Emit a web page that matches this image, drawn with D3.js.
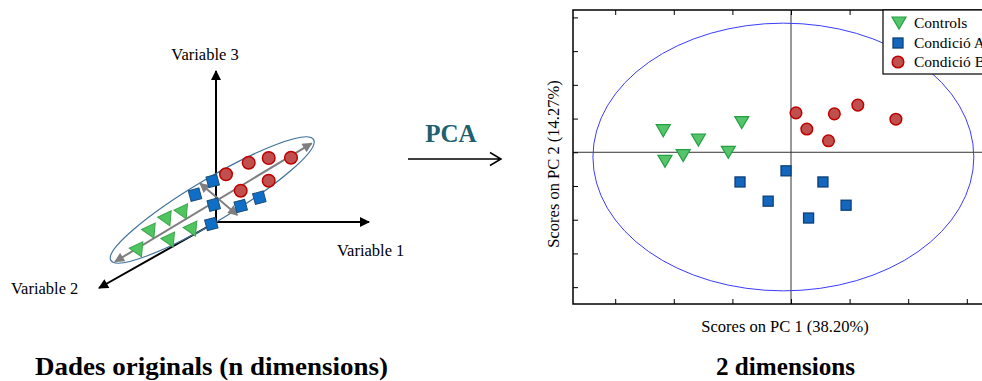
<!DOCTYPE html>
<html>
<head>
<meta charset="utf-8">
<script src="https://cdn.jsdelivr.net/npm/d3@7"></script>
<style>
  body { margin: 0; background: #fff; }
  text { font-family: "Liberation Serif", "Times New Roman", serif; }
</style>
</head>
<body>
<div id="chart"></div>
<script>
// ---- left diagram (projected 3D sketch, units relative to axes origin) ----
var leftRed = [[10, 47.7], [32.7, 59.3], [52.7, 64], [75, 64.3], [24.7, 31.3], [52.7, 41.3]];
var leftBlue = [[-3.3, 41], [-21, 27.3], [-2.3, 17.3], [24.7, 16], [43.3, 24.3], [-4.7, -2]];
var leftGreen = [[-49.3, 3], [-33, 10], [-65.3, -9.3], [-46, -18.3], [-23.7, -7.3], [-77.7, -28]];
var axisTips = [
    { name: 'Variable 1', tip: [153, 0] },
    { name: 'Variable 3', tip: [0, 151] },
    { name: 'Variable 2', tip: [-117, -66] }
];
var pcArrows = [[[-101, -39.7], [95.7, 78.7]], [[-16, 38.7], [21.3, 7]]];
var leftEllipse = { cx: -3.8, cy: 22, a: 118, b: 21, angle: 30.8 };

// ---- right chart: PCA scores ----
var groups = ['Controls', 'Condició A', 'Condició B'];
var controls = [[-2.18, 0.64], [-2.15, -0.27], [-1.84, -0.10], [-1.58, 0.36], [-1.07, 0.0], [-0.84, 0.88]];
var condA = [[-0.87, -0.88], [-0.39, -1.45], [-0.085, -0.55], [0.30, -1.95], [0.545, -0.88], [0.94, -1.57]];
var condB = [[0.085, 1.17], [0.27, 0.69], [0.64, 0.34], [0.74, 1.14], [1.14, 1.40], [1.79, 0.98]];
var xTicks = [-3, -2, -1, 0, 1, 2, 3, 4];
var yTicks = [-4, -3, -2, -1, 0, 1, 2, 3, 4];
var confEllipse = { cx: -0.13, cy: -0.14, rx: 3.25, ry: 3.97 };
var xTitle = 'Scores on PC 1 (38.20%)';
var yTitle = 'Scores on PC 2 (14.27%)';

var width = 982, height = 381;
var svg = d3.select('#chart').append('svg')
    .attr('width', width)
    .attr('height', height);

var defs = svg.append('defs');
function arrowMarker(id, color, w, h) {
    defs.append('marker')
        .attr('id', id)
        .attr('viewBox', '0 -5 10 10')
        .attr('refX', 9).attr('refY', 0)
        .attr('markerUnits', 'userSpaceOnUse')
        .attr('markerWidth', w).attr('markerHeight', h)
        .attr('orient', 'auto-start-reverse')
        .append('path')
        .attr('d', 'M0,-5L10,0L0,5Z')
        .attr('fill', color);
}
arrowMarker('blackHead', '#000', 11, 10);
arrowMarker('grayHead', '#7f7f7f', 11, 10);

// ======= left sketch =======
var xL = d3.scaleLinear().domain([-100, 100]).range([116, 316]);
var yL = d3.scaleLinear().domain([-100, 100]).range([322, 122]);
var left = svg.append('g');

left.selectAll('line.vaxis')
    .data(axisTips)
    .enter().append('line')
    .attr('class', 'vaxis')
    .attr('x1', xL(0)).attr('y1', yL(0))
    .attr('x2', function(d) { return xL(d.tip[0]); })
    .attr('y2', function(d) { return yL(d.tip[1]); })
    .attr('stroke', '#000')
    .attr('stroke-width', 2)
    .attr('marker-end', 'url(#blackHead)');

left.append('text').attr('x', 205).attr('y', 60).attr('text-anchor', 'middle')
    .style('font-size', '16.5px').text(axisTips[1].name);
left.append('text').attr('x', 337).attr('y', 256)
    .style('font-size', '16.5px').text(axisTips[0].name);
left.append('text').attr('x', 11).attr('y', 294)
    .style('font-size', '16.5px').text(axisTips[2].name);

left.append('ellipse')
    .attr('cx', 0).attr('cy', 0)
    .attr('rx', leftEllipse.a).attr('ry', leftEllipse.b)
    .attr('transform', 'translate(' + xL(leftEllipse.cx) + ',' + yL(leftEllipse.cy) + ') rotate(' + (-leftEllipse.angle) + ')')
    .attr('fill', 'none')
    .attr('stroke', '#41719c')
    .attr('stroke-width', 1.2);

left.selectAll('line.pc')
    .data(pcArrows)
    .enter().append('line')
    .attr('class', 'pc')
    .attr('x1', function(d) { return xL(d[0][0]); })
    .attr('y1', function(d) { return yL(d[0][1]); })
    .attr('x2', function(d) { return xL(d[1][0]); })
    .attr('y2', function(d) { return yL(d[1][1]); })
    .attr('stroke', '#7f7f7f')
    .attr('stroke-width', 2)
    .attr('marker-start', 'url(#grayHead)')
    .attr('marker-end', 'url(#grayHead)');

// marker shapes
var triPath = 'M-7.5,-5.5L7.5,-5.5L0,7.5Z';
left.selectAll('path.ltri')
    .data(leftGreen)
    .enter().append('path')
    .attr('class', 'ltri')
    .attr('d', triPath)
    .attr('transform', function(d) { return 'translate(' + xL(d[0]) + ',' + yL(d[1]) + ') rotate(-25)'; })
    .attr('fill', '#4fc45f')
    .attr('stroke', '#3aa54c')
    .attr('stroke-width', 1);

left.selectAll('rect.lsq')
    .data(leftBlue)
    .enter().append('rect')
    .attr('class', 'lsq')
    .attr('x', -5.5).attr('y', -5.5).attr('width', 11).attr('height', 11)
    .attr('transform', function(d) { return 'translate(' + xL(d[0]) + ',' + yL(d[1]) + ') rotate(-15)'; })
    .attr('fill', '#0f6fc6')
    .attr('stroke', '#1f4e79')
    .attr('stroke-width', 1);

left.selectAll('circle.lci')
    .data(leftRed)
    .enter().append('circle')
    .attr('class', 'lci')
    .attr('cx', function(d) { return xL(d[0]); })
    .attr('cy', function(d) { return yL(d[1]); })
    .attr('r', 6.3)
    .attr('fill', '#c0504d')
    .attr('stroke', '#c00000')
    .attr('stroke-width', 1.5);

// ======= PCA arrow =======
svg.append('text')
    .attr('x', 451).attr('y', 142)
    .attr('text-anchor', 'middle')
    .style('font-size', '25px').style('font-weight', 'bold')
    .attr('fill', '#215f6e')
    .text('PCA');
svg.append('path')
    .attr('d', 'M408,159L501,159M490,152.5L501,159L490,165.5')
    .attr('fill', 'none')
    .attr('stroke', '#000')
    .attr('stroke-width', 1.5);

// ======= right chart =======
var x = d3.scaleLinear().domain([-3.72, 3.72]).range([573, 1009]);
var y = d3.scaleLinear().domain([-4.5, 4.22]).range([304, 10]);
var right = svg.append('g');

right.append('line')
    .attr('x1', x(0)).attr('x2', x(0)).attr('y1', y(4.22)).attr('y2', y(-4.5))
    .attr('stroke', '#333').attr('stroke-width', 1);
right.append('line')
    .attr('x1', x(-3.72)).attr('x2', x(3.72)).attr('y1', y(0)).attr('y2', y(0))
    .attr('stroke', '#333').attr('stroke-width', 1);

right.append('ellipse')
    .attr('cx', x(confEllipse.cx)).attr('cy', y(confEllipse.cy))
    .attr('rx', x(confEllipse.rx) - x(0))
    .attr('ry', y(0) - y(confEllipse.ry))
    .attr('fill', 'none')
    .attr('stroke', '#3b3bff')
    .attr('stroke-width', 1);

// ticks (inward)
right.append('g')
    .attr('transform', 'translate(0,' + y(-4.5) + ')')
    .call(d3.axisBottom(x).tickValues(xTicks).tickSize(-5).tickFormat(''))
    .call(function(g) { g.select('.domain').remove(); });
right.append('g')
    .attr('transform', 'translate(0,' + y(4.22) + ')')
    .call(d3.axisTop(x).tickValues(xTicks).tickSize(-5).tickFormat(''))
    .call(function(g) { g.select('.domain').remove(); });
right.append('g')
    .attr('transform', 'translate(' + x(-3.72) + ',0)')
    .call(d3.axisLeft(y).tickValues(yTicks).tickSize(-5).tickFormat(''))
    .call(function(g) { g.select('.domain').remove(); });
right.selectAll('.tick line').attr('stroke', '#000').attr('stroke-width', 1);

right.append('rect')
    .attr('x', x(-3.72)).attr('y', y(4.22))
    .attr('width', x(3.72) - x(-3.72)).attr('height', y(-4.5) - y(4.22))
    .attr('fill', 'none')
    .attr('stroke', '#000')
    .attr('stroke-width', 1.5);

var rTri = 'M-7,-6L7,-6L0,6Z';
right.selectAll('path.rtri')
    .data(controls)
    .enter().append('path')
    .attr('class', 'rtri')
    .attr('d', rTri)
    .attr('transform', function(d) { return 'translate(' + x(d[0]) + ',' + y(d[1]) + ')'; })
    .attr('fill', '#55c46a')
    .attr('stroke', '#22a043')
    .attr('stroke-width', 1.2);

right.selectAll('rect.rsq')
    .data(condA)
    .enter().append('rect')
    .attr('class', 'rsq')
    .attr('x', function(d) { return x(d[0]) - 5; })
    .attr('y', function(d) { return y(d[1]) - 5; })
    .attr('width', 10).attr('height', 10)
    .attr('fill', '#1467be')
    .attr('stroke', '#0b3f78')
    .attr('stroke-width', 1.3);

right.selectAll('circle.rci')
    .data(condB)
    .enter().append('circle')
    .attr('class', 'rci')
    .attr('cx', function(d) { return x(d[0]); })
    .attr('cy', function(d) { return y(d[1]); })
    .attr('r', 5.8)
    .attr('fill', '#c0504d')
    .attr('stroke', '#c00000')
    .attr('stroke-width', 1.5);

// axis titles
right.append('text')
    .attr('x', 785).attr('y', 332)
    .attr('text-anchor', 'middle')
    .style('font-size', '16.5px')
    .text(xTitle);
right.append('text')
    .attr('transform', 'translate(559,164) rotate(-90)')
    .attr('text-anchor', 'middle')
    .style('font-size', '16.5px')
    .text(yTitle);

// legend
var legend = right.append('g');
legend.append('rect')
    .attr('x', 883).attr('y', 10).attr('width', 140).attr('height', 64)
    .attr('fill', '#fff').attr('stroke', '#000').attr('stroke-width', 1.2);
var rowY = [23, 43, 62];
legend.append('path').attr('d', rTri)
    .attr('transform', 'translate(899,' + rowY[0] + ')')
    .attr('fill', '#55c46a').attr('stroke', '#22a043').attr('stroke-width', 1.2);
legend.append('rect')
    .attr('x', 893).attr('y', rowY[1] - 5).attr('width', 10).attr('height', 10)
    .attr('fill', '#1467be').attr('stroke', '#0b3f78').attr('stroke-width', 1.3);
legend.append('circle')
    .attr('cx', 898).attr('cy', rowY[2]).attr('r', 5.8)
    .attr('fill', '#c0504d').attr('stroke', '#c00000').attr('stroke-width', 1.5);
legend.selectAll('text.leg')
    .data(groups)
    .enter().append('text')
    .attr('class', 'leg')
    .attr('x', 914)
    .attr('y', function(d, i) { return rowY[i] + 5; })
    .style('font-size', '15.5px')
    .text(function(d) { return d; });

// bottom titles
svg.append('text')
    .attr('x', 35).attr('y', 375)
    .attr('textLength', 353).attr('lengthAdjust', 'spacingAndGlyphs')
    .style('font-size', '26px').style('font-weight', 'bold')
    .text('Dades originals (n dimensions)');
svg.append('text')
    .attr('x', 716).attr('y', 375)
    .attr('textLength', 139).attr('lengthAdjust', 'spacingAndGlyphs')
    .style('font-size', '26px').style('font-weight', 'bold')
    .text('2 dimensions');
</script>
</body>
</html>
